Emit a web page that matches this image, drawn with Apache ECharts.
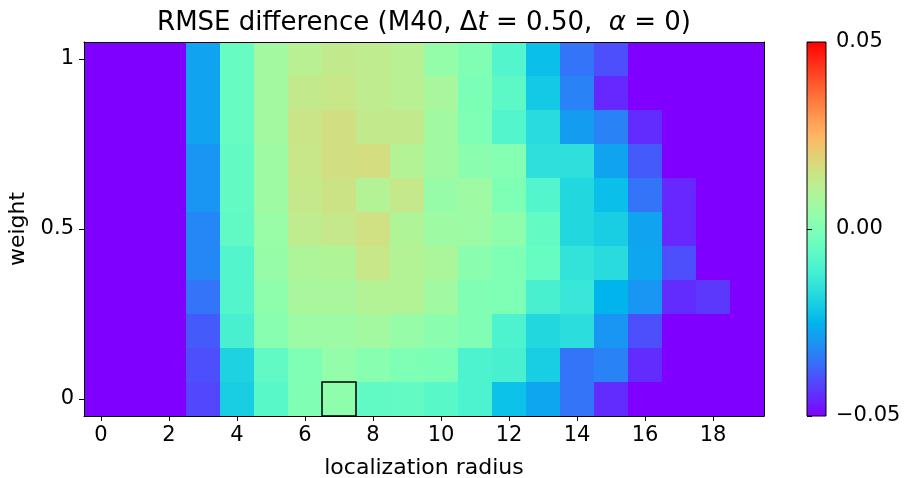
<!DOCTYPE html>
<html>
<head>
<meta charset="utf-8">
<script src="https://cdn.jsdelivr.net/npm/echarts@6/dist/echarts.min.js"></script>
<style>html,body{margin:0;padding:0;background:#fff;}#chart{width:906px;height:478px;}</style>
</head>
<body>
<div id="chart"></div>
<script>
// ---- data ----
const radii = [0,1,2,3,4,5,6,7,8,9,10,11,12,13,14,15,16,17,18,19];
const weights = [0.0,0.1,0.2,0.3,0.4,0.5,0.6,0.7,0.8,0.9,1.0];
const w00 = [-0.05,-0.05,-0.05,-0.041,-0.02,-0.0075,0.0,0.003,-0.006,-0.0055,-0.0075,-0.01,-0.0225,-0.0275,-0.035,-0.0445,-0.05,-0.05,-0.05,-0.05];
const w01 = [-0.05,-0.05,-0.05,-0.04,-0.019,-0.006,-0.0005,0.004,0.0015,-0.0005,-0.001,-0.01,-0.011,-0.02,-0.035,-0.033,-0.0445,-0.05,-0.05,-0.05];
const w02 = [-0.05,-0.05,-0.05,-0.0385,-0.011,0.0015,0.0055,0.0055,0.007,0.0045,0.002,0.0,-0.01,-0.018,-0.0165,-0.03,-0.04,-0.05,-0.05,-0.05];
const w03 = [-0.05,-0.05,-0.05,-0.035,-0.009,0.003,0.008,0.008,0.01,0.01,0.0065,0.0,-0.0005,-0.011,-0.014,-0.025,-0.03,-0.0445,-0.043,-0.05];
const w04 = [-0.05,-0.05,-0.05,-0.032,-0.009,0.0045,0.009,0.0095,0.014,0.01,0.0085,0.002,-0.0005,-0.005,-0.015,-0.017,-0.0275,-0.04,-0.05,-0.05];
const w05 = [-0.05,-0.05,-0.05,-0.032,-0.006,0.005,0.0125,0.0135,0.0155,0.0095,0.006,0.0055,0.003,-0.0055,-0.018,-0.02,-0.028,-0.045,-0.05,-0.05];
const w06 = [-0.05,-0.05,-0.05,-0.03,-0.0055,0.006,0.0135,0.015,0.01,0.0135,0.0045,0.006,-0.0005,-0.009,-0.018,-0.023,-0.035,-0.045,-0.05,-0.05];
const w07 = [-0.05,-0.05,-0.05,-0.03,-0.0055,0.006,0.014,0.016,0.0165,0.01,0.0065,0.002,0.001,-0.016,-0.016,-0.028,-0.0385,-0.05,-0.05,-0.05];
const w08 = [-0.05,-0.05,-0.05,-0.028,-0.005,0.007,0.0145,0.016,0.013,0.013,0.0065,-0.0005,-0.009,-0.017,-0.029,-0.033,-0.0445,-0.05,-0.05,-0.05];
const w09 = [-0.05,-0.05,-0.05,-0.028,-0.005,0.007,0.013,0.014,0.0125,0.011,0.008,-0.001,-0.007,-0.021,-0.033,-0.045,-0.05,-0.05,-0.05,-0.05];
const w10 = [-0.05,-0.05,-0.05,-0.028,-0.005,0.007,0.011,0.013,0.0125,0.011,0.004,0.0,-0.009,-0.023,-0.035,-0.04,-0.05,-0.05,-0.05,-0.05];
const rows = [w00,w01,w02,w03,w04,w05,w06,w07,w08,w09,w10];
const highlightCell = [7, 0.0];
const xTicks = [0,2,4,6,8,10,12,14,16,18];
const yTicks = [0, 0.5, 1];
const cbarTicks = [-0.05, 0, 0.05];
const vmin = -0.05, vmax = 0.05;

// ---- matplotlib 'rainbow' colormap stops ----
function rainbow(t){
  const r = Math.min(1, Math.abs(2*t - 0.5));
  const g = Math.sin(Math.PI*t);
  const b = Math.cos(Math.PI*t/2);
  const h = v => Math.round(Math.max(0,Math.min(1,v))*255);
  return 'rgb(' + h(r) + ',' + h(g) + ',' + h(b) + ')';
}
const cmap = [];
for (let i = 0; i <= 40; i++) cmap.push(rainbow(i/40));

const cells = [];
weights.forEach((w, j) => radii.forEach((r, i) => cells.push([r, w, rows[j][i]])));

const FONT = 'DejaVu Sans';
const chart = echarts.init(document.getElementById('chart'), null, {renderer: 'canvas'});

function cellRender(params, api){
  const x = api.value(0), y = api.value(1);
  const p0 = api.coord([x - 0.5, y + 0.05]);
  const p1 = api.coord([x + 0.5, y - 0.05]);
  const c = api.visual('color');
  const x0 = Math.round(p0[0]), y0 = Math.round(p0[1]);
  const x1 = Math.round(p1[0]), y1 = Math.round(p1[1]);
  return {type: 'rect', shape: {x: x0, y: y0, width: x1-x0, height: y1-y0},
          style: {fill: c}};
}
function boxRender(params, api){
  const x = api.value(0), y = api.value(1);
  const p0 = api.coord([x - 0.5, y + 0.05]);
  const p1 = api.coord([x + 0.5, y - 0.05]);
  return {type: 'rect', shape: {x: p0[0], y: p0[1], width: p1[0]-p0[0], height: p1[1]-p0[1]},
          style: {fill: 'none', stroke: '#000', lineWidth: 1.5}};
}
function cbarRender(params, api){
  const p0 = api.coord([0, vmax]);
  const p1 = api.coord([1, vmin]);
  return {type: 'rect', shape: {x: p0[0], y: p0[1], width: p1[0]-p0[0], height: p1[1]-p0[1]},
          style: {fill: {type: 'linear', x: 0, y: 1, x2: 0, y2: 0,
                  colorStops: cmap.map((c, i) => ({offset: i/(cmap.length-1), color: c}))},
                  stroke: '#000', lineWidth: 1}};
}
const fmtMinus = v => (v < 0 ? '\u2212' : '') + Math.abs(v).toFixed(2);

const option = {
  backgroundColor: '#fff',
  animation: false,
  textStyle: {fontFamily: FONT},
  graphic: [{
    type: 'text', x: 424, y: 23,
    style: {
      text: '{n|RMSE difference (M40, Δ}{i|t}{n| = 0.50,  }{i|α}{n| = 0)}',
      textAlign: 'center', textVerticalAlign: 'middle',
      rich: {n: {fontFamily: FONT, fontSize: 26, fill: '#000'},
             i: {fontFamily: FONT, fontSize: 26, fontStyle: 'italic', fill: '#000'}}
    }
  }],
  grid: [
    {left: 84, top: 42, width: 680, height: 374, show: false, containLabel: false, outerBoundsMode: 'none'},
    {left: 807, top: 42, width: 19, height: 374, show: false, containLabel: false, outerBoundsMode: 'none'}
  ],
  visualMap: {
    show: false, type: 'continuous', min: vmin, max: vmax, dimension: 2, seriesIndex: 0,
    inRange: {color: cmap}
  },
  xAxis: [
    {type: 'value', gridIndex: 0, min: -0.5, max: 19.5, z: 10,
     name: 'localization radius', nameLocation: 'middle', nameGap: 41,
     nameTextStyle: {fontFamily: FONT, fontSize: 22, color: '#000'},
     axisLine: {show: true, onZero: false, lineStyle: {color: '#000', width: 1}},
     axisTick: {show: true, length: 5, lineStyle: {color: '#000'}, customValues: xTicks},
     axisLabel: {fontFamily: FONT, fontSize: 21, color: '#000', margin: 9, customValues: xTicks,
                 formatter: v => String(v)},
     splitLine: {show: false}},
    {type: 'value', gridIndex: 0, min: -0.5, max: 19.5, position: 'top', z: 10,
     axisLine: {show: true, onZero: false, lineStyle: {color: '#000', width: 1}},
     axisTick: {show: false}, axisLabel: {show: false}, splitLine: {show: false}},
    {type: 'value', gridIndex: 1, min: 0, max: 1, show: false}
  ],
  yAxis: [
    {type: 'value', gridIndex: 0, min: -0.05, max: 1.05, z: 10,
     name: 'weight', nameLocation: 'middle', nameGap: 48,
     nameTextStyle: {fontFamily: FONT, fontSize: 22, color: '#000'},
     axisLine: {show: true, onZero: false, lineStyle: {color: '#000', width: 1}},
     axisTick: {show: true, length: 5, lineStyle: {color: '#000'}, customValues: yTicks},
     axisLabel: {fontFamily: FONT, fontSize: 21, color: '#000', margin: 10, customValues: yTicks,
                 formatter: v => String(v)},
     splitLine: {show: false}},
    {type: 'value', gridIndex: 0, min: -0.05, max: 1.05, position: 'right', z: 10,
     axisLine: {show: true, onZero: false, lineStyle: {color: '#000', width: 1}},
     axisTick: {show: false}, axisLabel: {show: false}, splitLine: {show: false}},
    {type: 'value', gridIndex: 1, min: vmin, max: vmax, position: 'right', z: 10,
     axisLine: {show: false},
     axisTick: {show: true, length: 5, lineStyle: {color: '#000'}, customValues: cbarTicks},
     axisLabel: {fontFamily: FONT, fontSize: 21, color: '#000', margin: 10, customValues: cbarTicks,
                 formatter: fmtMinus},
     splitLine: {show: false}}
  ],
  series: [
    {type: 'custom', xAxisIndex: 0, yAxisIndex: 0, renderItem: cellRender, data: cells,
     encode: {x: 0, y: 1}, clip: true, z: 2},
    {type: 'custom', xAxisIndex: 0, yAxisIndex: 0, renderItem: boxRender, data: [highlightCell],
     encode: {x: 0, y: 1}, z: 5},
    {type: 'custom', xAxisIndex: 2, yAxisIndex: 2, renderItem: cbarRender, data: [[0, 0]],
     encode: {x: 0, y: 1}, z: 2}
  ]
};
chart.setOption(option);
</script>
</body>
</html>
